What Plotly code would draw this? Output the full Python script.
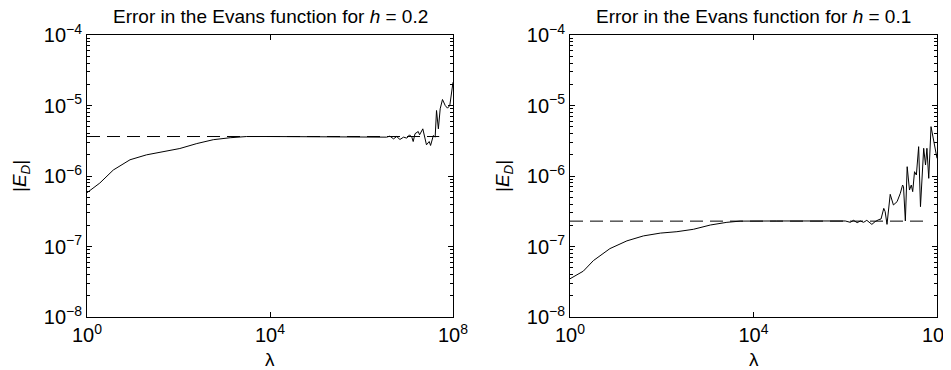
import plotly.graph_objects as go

# ---------------- data (log10 exponents) ----------------
# h = 0.2
lam_exp_h02 = [0, 0.28, 0.575, 0.94, 1.30, 1.67, 2.03, 2.40, 2.76, 3.13, 3.49, 4.0, 5.0, 6.0, 6.4,
               6.55, 6.62, 6.70, 6.77, 6.84, 6.92, 6.99, 7.05, 7.10, 7.13, 7.17, 7.24, 7.27, 7.34,
               7.39, 7.42, 7.48, 7.51, 7.57, 7.61, 7.64, 7.68, 7.72, 7.77, 7.83, 7.88, 7.93, 8.0]
err_exp_h02 = [-6.237, -6.10, -5.915, -5.77, -5.70, -5.655, -5.61, -5.54, -5.485, -5.457, -5.44, -5.44,
               -5.44, -5.44, -5.445,
               -5.449, -5.435, -5.473, -5.44, -5.482, -5.449, -5.463, -5.416, -5.449, -5.511, -5.40,
               -5.369, -5.416, -5.331, -5.449, -5.558, -5.511, -5.567, -5.426, -5.449, -5.071, -5.331,
               -5.047, -4.915, -5.0, -5.038, -5.0, -4.67]
ref_h02 = 3.63e-6          # dashed reference level
# h = 0.1
lam_exp_h01 = [0, 0.29, 0.51, 0.87, 1.24, 1.60, 1.97, 2.33, 2.69, 3.06, 3.42, 3.71, 4.5, 5.5, 6.0,
               6.11, 6.18, 6.26, 6.33, 6.40, 6.47, 6.58, 6.65, 6.73, 6.78, 6.84, 6.87, 6.91, 6.95,
               6.98, 7.05, 7.13, 7.20, 7.25, 7.27, 7.31, 7.35, 7.40, 7.44, 7.47, 7.51, 7.55, 7.60,
               7.64, 7.71, 7.75, 7.78, 7.82, 7.87, 7.93, 8.0]
err_exp_h01 = [-7.458, -7.35, -7.20, -7.03, -6.92, -6.85, -6.81, -6.79, -6.756, -6.695, -6.657, -6.64,
               -6.638, -6.638, -6.638,
               -6.657, -6.629, -6.662, -6.638, -6.657, -6.629, -6.686, -6.648, -6.619, -6.61, -6.459,
               -6.506, -6.686, -6.411, -6.26, -6.411, -6.364, -6.246, -6.128, -6.151, -6.638, -5.868,
               -6.199, -6.128, -6.222, -5.939, -5.986, -5.584, -6.435, -5.607, -5.844, -5.607, -6.033,
               -5.30, -5.513, -5.749]
ref_h01 = 2.29e-7
ref_lam_range = [1, 5.0e7]

titles = ["Error in the Evans function for <i>h</i> = 0.2",
          "Error in the Evans function for <i>h</i> = 0.1"]
x_tick_vals = [1, 1e4, 1e8]
x_tick_text = ["10<sup>0</sup>", "10<sup>4</sup>", "10<sup>8</sup>"]
y_tick_vals = [1e-8, 1e-7, 1e-6, 1e-5, 1e-4]
y_tick_text = ["10<sup>−8</sup>", "10<sup>−7</sup>", "10<sup>−6</sup>", "10<sup>−5</sup>", "10<sup>−4</sup>"]
y_minor_vals = [k * 10.0 ** e for e in range(-8, -4) for k in range(2, 10)]

# ---------------- figure ----------------
# the page body keeps its default 8px margin, so the figure is laid out 8px smaller
OFF = 8
W, H = 951 - OFF, 370 - OFF
FONT = "Liberation Sans, Arial, sans-serif"
FS = 19
FS_TICK = 20

fig = go.Figure()
series = [(lam_exp_h02, err_exp_h02, ref_h02, "x", "y"),
          (lam_exp_h01, err_exp_h01, ref_h01, "x2", "y2")]
for lx, ly, ref, xa, ya in series:
    fig.add_trace(go.Scatter(x=[10 ** v for v in lx], y=[10 ** v for v in ly], mode="lines",
                             line=dict(color="black", width=1), xaxis=xa, yaxis=ya,
                             hoverinfo="skip"))
    fig.add_trace(go.Scatter(x=ref_lam_range, y=[ref, ref], mode="lines",
                             line=dict(color="black", width=1, dash="13px,7px"),
                             xaxis=xa, yaxis=ya, hoverinfo="skip"))

def fx(p):  # screen px -> paper x
    return (p - OFF) / W

def fy(p):  # screen px -> paper y
    return 1 - (p - OFF) / H

px_l = [(87, 453), (570, 937)]
y_dom = [fy(317), fy(35)]

common_x = dict(type="log", range=[0, 8], tickmode="array", tickvals=x_tick_vals, ticktext=x_tick_text,
                ticks="inside", ticklen=5, tickwidth=1, tickcolor="black",
                showline=True, linecolor="black", linewidth=1, mirror="ticks",
                showgrid=False, zeroline=False, automargin=False, ticklabeloverflow="allow",
                tickfont=dict(family=FONT, size=FS_TICK, color="black"))
common_y = dict(type="log", range=[-8, -4], tickmode="array", tickvals=y_tick_vals, ticktext=y_tick_text,
                ticks="inside", ticklen=5, tickwidth=1, tickcolor="black",
                showline=True, linecolor="black", linewidth=1, mirror="ticks",
                showgrid=False, zeroline=False, automargin=False, ticklabeloverflow="allow",
                minor=dict(tickmode="array", tickvals=y_minor_vals, ticks="inside", ticklen=3,
                           tickcolor="black", showgrid=False),
                tickfont=dict(family=FONT, size=FS_TICK, color="black"))

fig.update_layout(
    width=W, height=H, margin=dict(l=0, r=0, t=0, b=0, autoexpand=False),
    paper_bgcolor="white", plot_bgcolor="white", showlegend=False,
    font=dict(family=FONT, size=FS, color="black"),
    xaxis=dict(common_x, domain=[fx(px_l[0][0]), fx(px_l[0][1])], anchor="y"),
    yaxis=dict(common_y, domain=y_dom, anchor="x"),
    xaxis2=dict(common_x, domain=[fx(px_l[1][0]), fx(px_l[1][1])], anchor="y2"),
    yaxis2=dict(common_y, domain=y_dom, anchor="x2"),
)

ann = []
for i, (a, b) in enumerate(px_l):
    cx = fx((a + b) / 2)
    ann.append(dict(text=titles[i], x=cx, y=fy(17), xref="paper", yref="paper",
                    showarrow=False, xanchor="center", yanchor="middle",
                    font=dict(family=FONT, size=FS, color="black")))
    ann.append(dict(text="λ", x=cx, y=fy(359), xref="paper", yref="paper",
                    showarrow=False, xanchor="center", yanchor="middle",
                    font=dict(family=FONT, size=FS, color="black")))
    ann.append(dict(text="|<i>E</i><sub><i>D</i></sub>|", x=fx(a - 66), y=fy(176),
                    xref="paper", yref="paper", showarrow=False, textangle=-90,
                    xanchor="center", yanchor="middle",
                    font=dict(family=FONT, size=FS, color="black")))
fig.update_layout(annotations=ann)

fig.write_html("out.html")
